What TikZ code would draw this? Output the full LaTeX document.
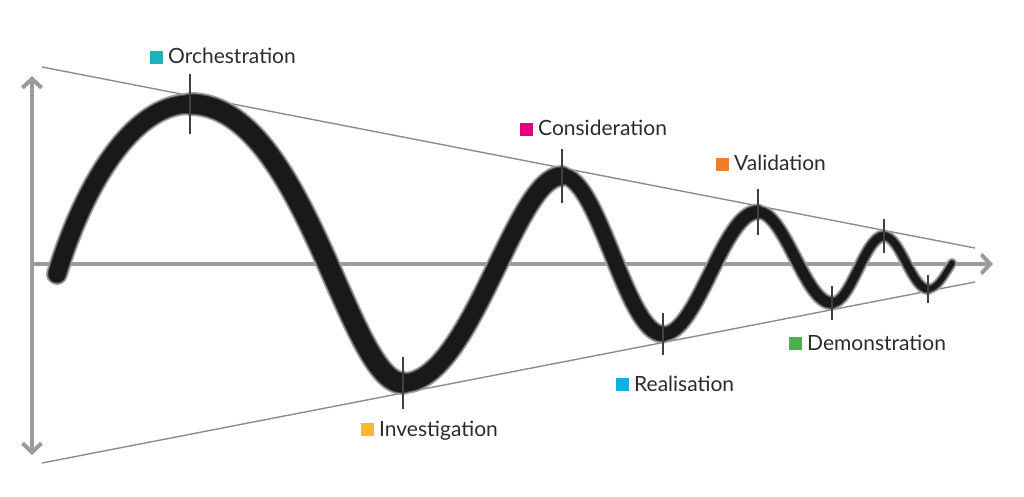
\documentclass[tikz,border=0pt]{standalone}
\usepackage{fontspec}
\setmainfont{Lato}
\usetikzlibrary{arrows.meta}

\definecolor{axisgray}{HTML}{9B9B9B}
\definecolor{labeltext}{HTML}{2B2B2B}
\definecolor{orchcolor}{HTML}{1AB3BA}
\definecolor{investcolor}{HTML}{F7B731}
\definecolor{considcolor}{HTML}{E5007D}
\definecolor{realcolor}{HTML}{12AEE6}
\definecolor{validcolor}{HTML}{F07D2A}
\definecolor{democolor}{HTML}{4CAF50}

% coloured square in front of a stage name
\newcommand{\stagebox}[1]{{\color{#1}\rule{13pt}{13pt}}\hspace{5pt}}

\begin{document}
\begin{tikzpicture}[x=1pt, y=-1pt,
	>={Straight Barb[length=9pt, width=19pt]},
	axis/.style={axisgray, line width=4pt},
	envelope/.style={black!45, line width=1.4pt},
	pencil/.style={line cap=round},
	tick/.style={black!75, line width=1.2pt},
	stage/.style={anchor=base west, inner sep=0pt, text=labeltext, font=\fontsize{21}{25}\selectfont}]

	% Fix the frame
	\useasboundingbox (0,0) rectangle (1024,497);

	% Draw the envelope lines
	\draw[envelope] (42,67) -- (975,248);
	\draw[envelope] (42,463) -- (975,282);

	% Draw the axes
	\coordinate (origin) at (32,264);
	\draw[axis, ->] (origin) -- (993,264);
	\draw[axis, <->] (32,455) -- (32,76);

	% Turning points of the wave
	\coordinate (start) at (57,274);
	\coordinate (p1) at (190,104);
	\coordinate (t1) at (403,383);
	\coordinate (p2) at (562,176);
	\coordinate (t2) at (663,334);
	\coordinate (p3) at (758,212);
	\coordinate (t3) at (832,303);
	\coordinate (p4) at (884,236);
	\coordinate (t4) at (928,289);
	\coordinate (stop) at (952,263);

	% Draw the wave: soft edge first, dark core last
	\foreach \tone/\trim in {38/0, 68/3, 90/5}
		\foreach \from/\to/\ca/\cb/\w in {start/p1/{28,-92}/{-56,0}/22, p1/t1/{114,0}/{-55,0}/24,
				t1/p2/{68,0}/{-47,0}/22, p2/t2/{37,0}/{-37,0}/19, t2/p3/{35,0}/{-35,0}/17,
				p3/t3/{27,0}/{-27,0}/15, t3/p4/{19,0}/{-19,0}/13, p4/t4/{16,0}/{-16,0}/12,
				t4/stop/{9,0}/{-8,13}/10}
			\draw[pencil, black!\tone, line width=\w pt-\trim pt] (\from) .. controls +(\ca) and +(\cb) .. (\to);

	% Ticks at the turning points
	\foreach \ext/\h in {p1/30, t1/26, p2/27, t2/21, p3/23, t3/17, p4/17, t4/14}
		\draw[tick] ([yshift=\h pt]\ext) -- ([yshift=-\h pt]\ext);

	% Stage names
	\node[stage] (orchestration) at (150,64) {\stagebox{orchcolor}Orchestration};
	\node[stage] (consideration) at (520,136) {\stagebox{considcolor}Consideration};
	\node[stage] (validation) at (716,171) {\stagebox{validcolor}Validation};
	\node[stage] (investigation) at (361,436) {\stagebox{investcolor}Investigation};
	\node[stage] (realisation) at (616,391) {\stagebox{realcolor}Realisation};
	\node[stage] (demonstration) at (789,350) {\stagebox{democolor}Demonstration};
\end{tikzpicture}
\end{document}
